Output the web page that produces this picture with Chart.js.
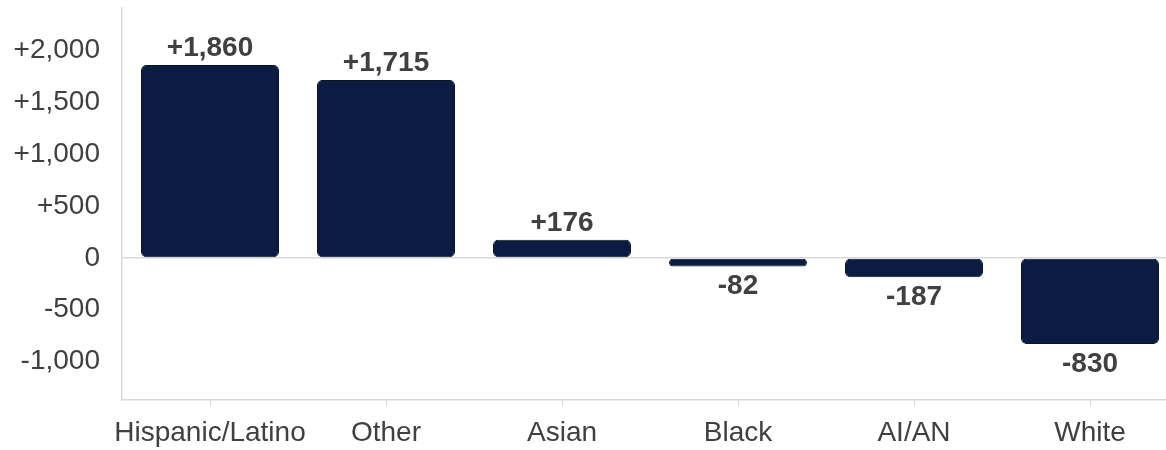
<!DOCTYPE html>
<html>
<head>
<meta charset="utf-8">
<script src="https://cdn.jsdelivr.net/npm/chart.js@4"></script>
<style>
  html, body { margin: 0; padding: 0; background: #fff; overflow: hidden; }
  #wrap { width: 1178px; height: 450px; }
</style>
</head>
<body>
<div id="wrap"><canvas id="chart"></canvas></div>
<script>
// Categories and values
const categories = ['Hispanic/Latino', 'Other', 'Asian', 'Black', 'AI/AN', 'White'];
const changes = [1860, 1715, 176, -82, -187, -830];
const yTicks = [-1000, -500, 0, 500, 1000, 1500, 2000];

const FONT = "'Liberation Sans', Arial, sans-serif";
const TEXT = '#404040';
const LINE = '#d9d9d9';

const fmt = v => (v > 0 ? '+' : '') + Math.round(v).toLocaleString('en-US');

// Value labels above / below each bar
const valueLabels = {
  id: 'valueLabels',
  afterDatasetsDraw(chart) {
    const ctx = chart.ctx;
    const size = 28;
    ctx.save();
    ctx.font = `bold ${size}px ${FONT}`;
    ctx.fillStyle = TEXT;
    ctx.textAlign = 'center';
    ctx.textBaseline = 'alphabetic';
    chart.getDatasetMeta(0).data.forEach((bar, i) => {
      const v = changes[i];
      if (v >= 0) {
        ctx.fillText(fmt(v), bar.x, bar.y - 9);
      } else {
        ctx.fillText(fmt(v), bar.x, bar.y + 8 + size * 0.716);
      }
    });
    ctx.restore();
  }
};

const ctx = document.getElementById('chart').getContext('2d');
new Chart(ctx, {
  type: 'bar',
  data: {
    labels: categories,
    datasets: [{
      data: changes,
      backgroundColor: '#0a1c42',
      borderColor: '#06132e',
      borderWidth: 1,
      borderRadius: 5,
      borderSkipped: false,
      categoryPercentage: 1,
      barPercentage: 0.784
    }]
  },
  options: {
    responsive: true,
    maintainAspectRatio: false,
    animation: false,
    layout: { padding: { top: 8, left: 0, right: 0, bottom: 0 } },
    plugins: {
      legend: { display: false },
      tooltip: { enabled: false }
    },
    scales: {
      x: {
        grid: {
          offset: false,
          drawOnChartArea: false,
          drawTicks: true,
          tickLength: 6,
          color: LINE
        },
        border: { display: true, color: LINE, width: 1.5 },
        ticks: {
          color: TEXT,
          font: { family: FONT, size: 28 },
          padding: 10,
          maxRotation: 0,
          autoSkip: false
        },
        afterFit: s => {
          s.height = 50;
          s.paddingLeft = 0;
          s.paddingRight = 0;
        }
      },
      y: {
        min: -1370,
        max: 2410,
        afterBuildTicks: s => {
          s.ticks = yTicks.map(v => ({ value: v }));
        },
        grid: {
          drawTicks: false,
          color: c => (c.tick && c.tick.value === 0 ? LINE : 'rgba(0,0,0,0)'),
          lineWidth: 1.5
        },
        border: { display: true, color: LINE, width: 1.5 },
        ticks: {
          color: TEXT,
          font: { family: FONT, size: 28 },
          padding: 22,
          callback: v => fmt(v)
        },
        afterFit: s => {
          s.width = 122;
          s.paddingTop = 0;
          s.paddingBottom = 0;
        }
      }
    }
  },
  plugins: [valueLabels]
});
</script>
</body>
</html>
